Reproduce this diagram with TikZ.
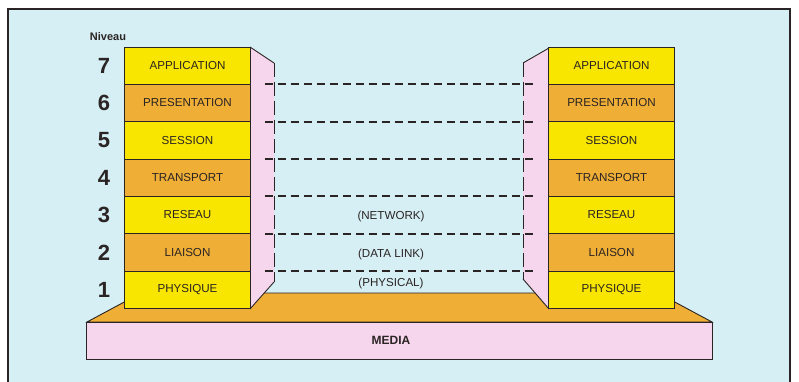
\documentclass[tikz,border=0pt]{standalone}
\usepackage{fontspec}
\setmainfont{Liberation Sans}
\usetikzlibrary{calc}
\definecolor{bgblue}{HTML}{D5EFF4}
\definecolor{lyellow}{HTML}{F8E600}
\definecolor{lorange}{HTML}{EFAE36}
\definecolor{lpink}{HTML}{F6D6EC}
\definecolor{ink}{HTML}{2B2424}
\begin{document}
\begin{tikzpicture}[x=1pt,y=-1pt,
  layer/.style={draw=ink, line width=0.9pt, minimum width=126pt, minimum height=37.33pt,
    inner sep=0pt, outer sep=0pt, font=\fontsize{11.6}{13}\selectfont, text=ink},
  num/.style={font=\fontsize{22}{24}\selectfont\bfseries, text=ink},
  peer/.style={draw=ink, line width=2.1pt, dash pattern=on 8.5pt off 4.5pt},
  edgeline/.style={draw=ink, line width=0.9pt},
  vedge/.style={draw=ink, line width=0.9pt, dash pattern=on 14pt off 5pt},
  note/.style={font=\fontsize{11.6}{13}\selectfont, text=ink}]
\useasboundingbox (0,0) rectangle (799,382);
\fill[white] (0,0) rectangle (799,382);
\fill[bgblue] (8,9) rectangle (790,382);
\draw[ink, line width=1.4pt] (8,382) -- (8,9) -- (790,9) -- (790,382);
% platform
\filldraw[fill=lorange, edgeline] (87,322) -- (141,293) -- (658,293) -- (712,322) -- cycle;
\node[draw=ink, line width=0.9pt, fill=lpink, minimum width=626pt, minimum height=37pt,
  inner sep=0pt, anchor=north west] (media) at (86,322) {};
\node[font=\fontsize{12}{14}\selectfont\bfseries, text=ink] (medialabel) at (391,340.5) {MEDIA};
% pink sides
\fill[lpink] (250,47) -- (274,63) -- (274,282) -- (250,309) -- cycle;
\draw[edgeline] (250,47) -- (274,63);
\draw[edgeline] (274,282) -- (250,309);
\draw[vedge] (274,63) -- (274,282);
\fill[lpink] (549,48) -- (523,63) -- (523,279) -- (549,309) -- cycle;
\draw[edgeline] (549,48) -- (523,63);
\draw[edgeline] (523,279) -- (549,309);
\draw[vedge] (523,63) -- (523,279);
% stacks
\foreach \k/\t/\c in {7/APPLICATION/lyellow,6/PRESENTATION/lorange,5/SESSION/lyellow,
    4/TRANSPORT/lorange,3/RESEAU/lyellow,2/LIAISON/lorange,1/PHYSIQUE/lyellow} {
  \node[layer, fill=\c] (L\k) at (187.5,{47+37.333*(7-\k)+18.667}) {\t};
  \node[layer, fill=\c] (R\k) at (611.5,{47+37.333*(7-\k)+18.667}) {\t};
  \node[num] (N\k) at (104,{47+37.333*(7-\k)+18.667}) {\k};
}
\node[font=\fontsize{11}{12}\selectfont\bfseries, text=ink] (niveau) at (108,37) {Niveau};
% peer dashed lines
\foreach \k in {1,...,6} {
  \draw[peer] ($(L\k.north east)+(14,0)$) -- ($(R\k.north west)+(-14,0)$);
}
\node[note] (net) at (391,216) {(NETWORK)};
\node[note] (dl) at (391,254) {(DATA LINK)};
\node[note] (phy) at (391,283) {(PHYSICAL)};
\end{tikzpicture}
\end{document}
